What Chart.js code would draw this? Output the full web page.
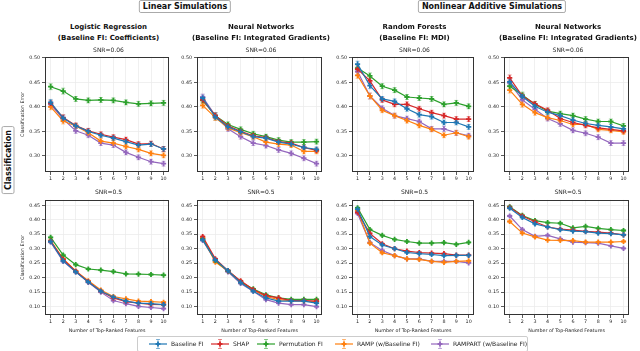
<!DOCTYPE html>
<html>
<head>
<meta charset="utf-8">
<script src="https://cdn.jsdelivr.net/npm/chart.js@4.4.1/dist/chart.umd.min.js"></script>
<style>
  body { margin: 0; background: #fff; }
  #fig { position: relative; width: 640px; height: 351px; overflow: hidden; font-family: "DejaVu Sans", sans-serif; color: #111; }
  #fig canvas { position: absolute; }
  .box { position: absolute; font-weight: bold; border: 1px solid #aaa; border-radius: 2px; background: #fff; white-space: nowrap; color: #111; }
  .ptitle { position: absolute; transform: translateX(-50%); text-align: center; font-weight: bold; font-size: 7px; line-height: 11px; white-space: nowrap; color: #111; }
  .snr { position: absolute; transform: translate(-50%, -50%); font-size: 6px; white-space: nowrap; color: #222; }
  #legend { position: absolute; left: 137px; top: 336px; width: 391px; height: 16px; border: 1px solid #ccc; border-radius: 2px; box-sizing: border-box; }
  .item { position: absolute; top: 0; height: 14px; line-height: 14px; font-size: 6px; white-space: nowrap; color: #222; }
  .item svg { position: absolute; left: 0; top: 0; }
</style>
</head>
<body>
<div id="fig"></div>
<script>
// x axis: number of top ranked features
const features = [1, 2, 3, 4, 5, 6, 7, 8, 9, 10];
const methods = ['Baseline FI', 'SHAP', 'Permutation FI', 'RAMP (w/Baseline FI)', 'RAMPART (w/Baseline FI)'];
const colors = ['#1f77b4', '#d62728', '#2ca02c', '#ff7f0e', '#9467bd'];
const yTicksLow = [0.30, 0.35, 0.40, 0.45, 0.50];
const yTicksHigh = [0.10, 0.15, 0.20, 0.25, 0.30, 0.35, 0.40, 0.45];
const errLow = [0.006, 0.006, 0.005, 0.005, 0.005, 0.005, 0.005, 0.005, 0.005, 0.005];
const errHigh = [0.004, 0.004, 0.004, 0.003, 0.003, 0.003, 0.003, 0.003, 0.003, 0.003];

// rows in each panel follow the methods order
// SNR=0.06
const lrLow = [
  [0.409, 0.377, 0.361, 0.350, 0.342, 0.336, 0.329, 0.322, 0.324, 0.314],
  [0.407, 0.378, 0.362, 0.351, 0.344, 0.338, 0.333, 0.324, 0.325, 0.314],
  [0.441, 0.432, 0.416, 0.413, 0.414, 0.413, 0.409, 0.406, 0.407, 0.408],
  [0.400, 0.371, 0.361, 0.347, 0.330, 0.326, 0.319, 0.313, 0.305, 0.301],
  [0.405, 0.375, 0.351, 0.342, 0.326, 0.322, 0.307, 0.297, 0.288, 0.284]
];
const nnLinLow = [
  [0.418, 0.379, 0.359, 0.349, 0.339, 0.336, 0.328, 0.324, 0.317, 0.313],
  [0.414, 0.382, 0.361, 0.350, 0.341, 0.337, 0.329, 0.326, 0.317, 0.311],
  [0.413, 0.382, 0.364, 0.354, 0.345, 0.339, 0.332, 0.328, 0.328, 0.329],
  [0.403, 0.378, 0.357, 0.347, 0.339, 0.328, 0.324, 0.322, 0.309, 0.309],
  [0.420, 0.382, 0.355, 0.339, 0.326, 0.321, 0.312, 0.305, 0.295, 0.284]
];
const rfLow = [
  [0.487, 0.443, 0.416, 0.411, 0.396, 0.384, 0.380, 0.368, 0.368, 0.359],
  [0.477, 0.453, 0.414, 0.405, 0.405, 0.396, 0.388, 0.382, 0.375, 0.375],
  [0.479, 0.463, 0.442, 0.434, 0.420, 0.418, 0.416, 0.405, 0.408, 0.401],
  [0.464, 0.422, 0.393, 0.382, 0.372, 0.362, 0.354, 0.342, 0.347, 0.339],
  [0.472, 0.422, 0.397, 0.382, 0.376, 0.370, 0.355, 0.355, 0.347, 0.341]
];
const nnAddLow = [
  [0.451, 0.421, 0.401, 0.389, 0.382, 0.373, 0.366, 0.362, 0.359, 0.355],
  [0.459, 0.422, 0.406, 0.393, 0.376, 0.368, 0.362, 0.357, 0.354, 0.351],
  [0.442, 0.424, 0.405, 0.391, 0.386, 0.382, 0.375, 0.370, 0.370, 0.361],
  [0.434, 0.405, 0.388, 0.378, 0.372, 0.364, 0.364, 0.354, 0.352, 0.349],
  [0.449, 0.414, 0.395, 0.376, 0.365, 0.352, 0.346, 0.338, 0.326, 0.326]
];
// SNR=0.5
const lrHigh = [
  [0.325, 0.258, 0.220, 0.185, 0.153, 0.133, 0.119, 0.112, 0.110, 0.107],
  [0.326, 0.263, 0.222, 0.186, 0.153, 0.130, 0.117, 0.112, 0.108, 0.107],
  [0.339, 0.278, 0.245, 0.230, 0.226, 0.221, 0.213, 0.212, 0.211, 0.209],
  [0.328, 0.265, 0.223, 0.189, 0.157, 0.135, 0.127, 0.119, 0.117, 0.115],
  [0.323, 0.256, 0.220, 0.184, 0.150, 0.121, 0.110, 0.101, 0.097, 0.093]
];
const nnLinHigh = [
  [0.331, 0.261, 0.224, 0.183, 0.153, 0.130, 0.119, 0.119, 0.119, 0.112],
  [0.342, 0.265, 0.224, 0.189, 0.159, 0.138, 0.130, 0.121, 0.121, 0.119],
  [0.334, 0.260, 0.223, 0.185, 0.161, 0.141, 0.130, 0.125, 0.125, 0.125],
  [0.337, 0.254, 0.224, 0.186, 0.157, 0.135, 0.124, 0.121, 0.119, 0.118],
  [0.329, 0.258, 0.220, 0.180, 0.153, 0.124, 0.112, 0.107, 0.107, 0.100]
];
const rfHigh = [
  [0.437, 0.342, 0.313, 0.300, 0.287, 0.283, 0.280, 0.276, 0.277, 0.277],
  [0.426, 0.353, 0.317, 0.300, 0.292, 0.287, 0.285, 0.283, 0.278, 0.278],
  [0.441, 0.366, 0.346, 0.332, 0.325, 0.319, 0.319, 0.321, 0.315, 0.322],
  [0.433, 0.319, 0.286, 0.276, 0.265, 0.263, 0.256, 0.253, 0.256, 0.258],
  [0.422, 0.321, 0.294, 0.276, 0.265, 0.265, 0.256, 0.256, 0.256, 0.251]
];
const nnAddHigh = [
  [0.440, 0.408, 0.386, 0.375, 0.366, 0.361, 0.359, 0.354, 0.352, 0.348],
  [0.443, 0.413, 0.393, 0.375, 0.368, 0.364, 0.360, 0.357, 0.354, 0.348],
  [0.445, 0.415, 0.397, 0.390, 0.388, 0.372, 0.377, 0.370, 0.366, 0.363],
  [0.394, 0.354, 0.341, 0.330, 0.329, 0.328, 0.323, 0.323, 0.323, 0.325],
  [0.413, 0.366, 0.343, 0.346, 0.334, 0.323, 0.321, 0.319, 0.310, 0.301]
];

const panelTitles = [
  ['Logistic Regression', '(Baseline FI: Coefficients)'],
  ['Neural Networks', '(Baseline FI: Integrated Gradients)'],
  ['Random Forests', '(Baseline FI: MDI)'],
  ['Neural Networks', '(Baseline FI: Integrated Gradients)']
];

// layout (pixels)
const plotLeft = [45, 197, 352, 504];
const plotWidth = [127, 128, 125, 128];
const rowTop = [54, 197];
const plotH = 118;
const yAxisW = 27;
const xAxisH = [12, 19];

const fig = document.getElementById('fig');

function addDiv(cls, html, style) {
  const d = document.createElement('div');
  d.className = cls;
  d.innerHTML = html;
  Object.assign(d.style, style);
  fig.appendChild(d);
  return d;
}

function hexA(hex, a) {
  const n = parseInt(hex.slice(1), 16);
  return `rgba(${n >> 16},${(n >> 8) & 255},${n & 255},${a})`;
}

const errorBars = {
  id: 'errorBars',
  beforeDatasetsDraw(chart) {
    const ctx = chart.ctx, ys = chart.scales.y, a = chart.chartArea;
    ctx.save();
    // frame around plot area
    ctx.strokeStyle = '#333';
    ctx.lineWidth = 1;
    ctx.strokeRect(Math.round(a.left) + 0.5, Math.round(a.top) + 0.5, Math.round(a.right - a.left) - 1, Math.round(a.bottom - a.top) - 1);
    chart.data.datasets.forEach((ds, di) => {
      const meta = chart.getDatasetMeta(di);
      ctx.strokeStyle = hexA(ds.borderColor, 0.45);
      ctx.lineWidth = 1;
      meta.data.forEach((pt, i) => {
        const v = ds.data[i].y, e = ds.errs[i];
        const y1 = ys.getPixelForValue(v + e), y2 = ys.getPixelForValue(v - e);
        ctx.beginPath();
        ctx.moveTo(pt.x, y1); ctx.lineTo(pt.x, y2);
        ctx.moveTo(pt.x - 2, y1); ctx.lineTo(pt.x + 2, y1);
        ctx.moveTo(pt.x - 2, y2); ctx.lineTo(pt.x + 2, y2);
        ctx.stroke();
      });
    });
    ctx.restore();
  }
};

const panels = [
  [lrLow, nnLinLow, rfLow, nnAddLow],
  [lrHigh, nnLinHigh, rfHigh, nnAddHigh]
];

panels.forEach((rowData, row) => {
  rowData.forEach((series, col) => {
    const cv = document.createElement('canvas');
    const w = yAxisW + plotWidth[col] + 3;
    const h = 3 + plotH + xAxisH[row];
    cv.width = w; cv.height = h;
    cv.style.left = (plotLeft[col] - yAxisW) + 'px';
    cv.style.top = (rowTop[row] - 3) + 'px';
    fig.appendChild(cv);

    const errs = row === 0 ? errLow : errHigh;
    const yTicks = row === 0 ? yTicksLow : yTicksHigh;

    new Chart(cv, {
      type: 'line',
      data: {
        datasets: series.map((vals, si) => ({
          label: methods[si],
          data: vals.map((v, i) => ({ x: features[i], y: v })),
          errs: errs,
          borderColor: colors[si],
          backgroundColor: colors[si],
          borderWidth: 1.2,
          pointStyle: 'cross',
          pointRadius: 2.6,
          pointBorderWidth: 1.8,
          tension: 0
        }))
      },
      options: {
        responsive: false,
        animation: false,
        devicePixelRatio: 1,
        layout: { padding: { top: 3, right: 3, left: 0, bottom: 0 } },
        plugins: { legend: { display: false }, tooltip: { enabled: false } },
        scales: {
          x: {
            type: 'linear',
            min: 0.55,
            max: 10.45,
            afterBuildTicks: s => { s.ticks = features.map(v => ({ value: v })); },
            afterFit: s => { s.height = xAxisH[row]; },
            border: { display: false },
            grid: { color: '#ececec', lineWidth: 0.8, tickColor: '#333', tickLength: 3 },
            ticks: { font: { family: 'DejaVu Sans', size: 4.8 }, color: '#222', padding: 1, maxRotation: 0, autoSkip: false },
            title: {
              display: row === 1,
              text: 'Number of Top-Ranked Features',
              font: { family: 'DejaVu Sans', size: 4.8 },
              color: '#222',
              padding: { top: 0, bottom: 0 }
            }
          },
          y: {
            min: row === 0 ? 0.267 : 0.071,
            max: row === 0 ? 0.502 : 0.469,
            afterBuildTicks: s => { s.ticks = yTicks.map(v => ({ value: v })); },
            afterFit: s => { s.width = yAxisW; },
            border: { display: false },
            grid: { color: '#ececec', lineWidth: 0.8, tickColor: '#333', tickLength: 3 },
            ticks: { font: { family: 'DejaVu Sans', size: 4.8 }, color: '#222', padding: 2, callback: v => v.toFixed(2) },
            title: {
              display: col === 0,
              text: 'Classification Error',
              font: { family: 'DejaVu Sans', size: 4.8 },
              color: '#222',
              padding: { top: 2, bottom: 0 }
            }
          }
        }
      },
      plugins: [errorBars]
    });
  });
});

// group headers
addDiv('box', 'Linear Simulations', { fontSize: '8px', top: '0px', left: '185px', padding: '1px 3px', transform: 'translateX(-50%)' });
addDiv('box', 'Nonlinear Additive Simulations', { fontSize: '8px', top: '0px', left: '492px', padding: '1px 3px', transform: 'translateX(-50%)' });
addDiv('box', 'Classification', { fontSize: '8px', left: '8px', top: '160px', padding: '1px 3px', transform: 'translate(-50%, -50%) rotate(-90deg)' });

// panel titles
panelTitles.forEach((t, col) => {
  const cx = plotLeft[col] + plotWidth[col] / 2;
  addDiv('ptitle', t[0] + '<br>' + t[1], { left: cx + 'px', top: '22px' });
  addDiv('snr', 'SNR=0.06', { left: cx + 'px', top: '49px' });
  addDiv('snr', 'SNR=0.5', { left: cx + 'px', top: '190.5px' });
});

// legend
const legend = document.createElement('div');
legend.id = 'legend';
fig.appendChild(legend);
const iconX = [20, 82, 128, 206, 302];
methods.forEach((m, i) => {
  const c = colors[i];
  const it = document.createElement('div');
  it.className = 'item';
  it.style.left = (iconX[i] - 9) + 'px';
  it.innerHTML =
    `<svg width="18" height="14" viewBox="0 0 18 14">` +
    `<line x1="0" y1="7" x2="18" y2="7" stroke="${c}" stroke-width="1.2"/>` +
    `<line x1="9" y1="2.5" x2="9" y2="11.5" stroke="${hexA(c, 0.55)}" stroke-width="1"/>` +
    `<line x1="7" y1="2.5" x2="11" y2="2.5" stroke="${hexA(c, 0.55)}" stroke-width="1"/>` +
    `<line x1="7" y1="11.5" x2="11" y2="11.5" stroke="${hexA(c, 0.55)}" stroke-width="1"/>` +
    `<line x1="6.5" y1="7" x2="11.5" y2="7" stroke="${c}" stroke-width="1.8"/>` +
    `<line x1="9" y1="4.5" x2="9" y2="9.5" stroke="${c}" stroke-width="1.8"/>` +
    `</svg><span style="margin-left:22px">${m}</span>`;
  legend.appendChild(it);
});
</script>
</body>
</html>
